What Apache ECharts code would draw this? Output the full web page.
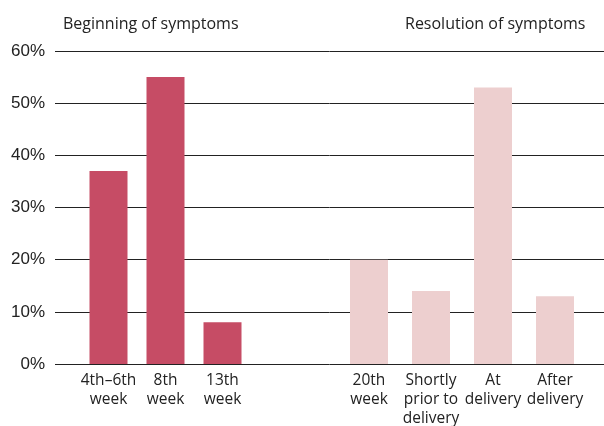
<!DOCTYPE html>
<html>
<head>
<meta charset="utf-8">
<script src="https://cdn.jsdelivr.net/npm/echarts@6/dist/echarts.min.js"></script>
<style>
  html, body { margin: 0; padding: 0; background: #fff; }
  #chart { width: 604px; height: 426px; }
</style>
</head>
<body>
<div id="chart"></div>
<script>
// data (percent of patients)
const beginLabels = ["4th–6th\nweek", "8th\nweek", "13th\nweek"];
const beginValues = [37, 55, 8];
const resolutionLabels = ["20th\nweek", "Shortly\nprior to\ndelivery", "At\ndelivery", "After\ndelivery"];
const resolutionValues = [20, 14, 53, 13];
const yTicks = [0, 10, 20, 30, 40, 50, 60];

const darkRed = "#c64c65";
const lightPink = "#edcfcf";
const lineColor = "#222";

const myChart = echarts.init(document.getElementById("chart"));

const catAxis = (gridIndex, labels) => ({
  type: "category",
  gridIndex: gridIndex,
  data: labels,
  axisLine: { show: false },
  axisTick: { show: false },
  axisLabel: {
    interval: 0,
    margin: 7,
    fontSize: 15.5,
    lineHeight: 19,
    color: "#222",
    fontFamily: "Open Sans",
  },
});

const hiddenY = (gridIndex) => ({
  type: "value",
  gridIndex: gridIndex,
  min: yTicks[0],
  max: yTicks[yTicks.length - 1],
  interval: 10,
  show: false,
});

const titleStyle = { fontSize: 16, fontWeight: "normal", color: "#222", fontFamily: "Open Sans" };

const option = {
  animation: false,
  title: [
    { text: "Beginning of symptoms", left: 58, top: 11, textStyle: titleStyle },
    { text: "Resolution of symptoms", left: 400, top: 11, textStyle: titleStyle },
  ],
  grid: [
    // full width grid just for the lines and % labels
    { left: 55, right: 0, top: 51, bottom: 62, outerBoundsMode: "none" },
    { left: 80, width: 171, top: 51, bottom: 62, outerBoundsMode: "none" },
    { left: 338, width: 248, top: 51, bottom: 62, outerBoundsMode: "none" },
  ],
  xAxis: [
    { type: "value", gridIndex: 0, show: false },
    catAxis(1, beginLabels),
    catAxis(2, resolutionLabels),
  ],
  yAxis: [
    {
      type: "value",
      gridIndex: 0,
      min: yTicks[0],
      max: yTicks[yTicks.length - 1],
      interval: 10,
      axisLine: { show: false },
      axisTick: { show: false },
      axisLabel: {
        formatter: "{value}%",
        fontSize: 17,
        margin: 10,
        color: "#222",
        fontFamily: "Liberation Sans",
      },
      splitLine: { lineStyle: { color: lineColor, width: 1 } },
    },
    hiddenY(1),
    hiddenY(2),
  ],
  series: [
    {
      name: "Beginning of symptoms",
      type: "bar",
      xAxisIndex: 1,
      yAxisIndex: 1,
      barWidth: 38,
      itemStyle: { color: darkRed },
      data: beginValues,
    },
    {
      name: "Resolution of symptoms",
      type: "bar",
      xAxisIndex: 2,
      yAxisIndex: 2,
      barWidth: 38,
      itemStyle: { color: lightPink },
      data: resolutionValues,
    },
  ],
};

myChart.setOption(option);
</script>
</body>
</html>
